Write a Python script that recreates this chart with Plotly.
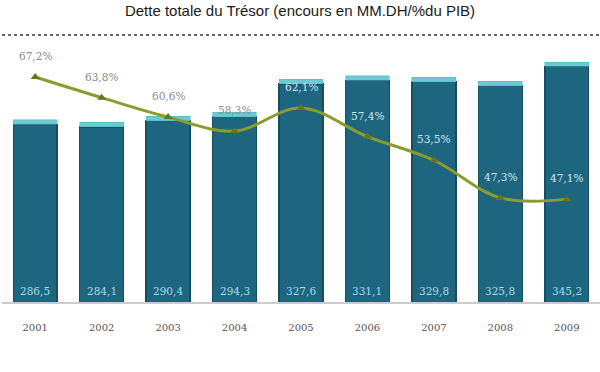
import plotly.graph_objects as go

years = ["2001", "2002", "2003", "2004", "2005", "2006", "2007", "2008", "2009"]
encours = [286.5, 284.1, 290.4, 294.3, 327.6, 331.1, 329.8, 325.8, 345.2]
encours_labels = ["286,5", "284,1", "290,4", "294,3", "327,6", "331,1", "329,8", "325,8", "345,2"]
pct_pib = [67.2, 63.8, 60.6, 58.3, 62.1, 57.4, 53.5, 47.3, 47.1]
pct_labels = ["67,2%", "63,8%", "60,6%", "58,3%", "62,1%", "57,4%", "53,5%", "47,3%", "47,1%"]
pct_inside = [False, False, False, False, True, True, True, True, True]

CAP = 4.5
Y_MIN, Y_MAX = 101, 357.4

fig = go.Figure()

fig.add_trace(go.Bar(
    x=years, y=[v - CAP for v in encours],
    marker=dict(color="#1e6580", line=dict(color="#174c61", width=1.5)),
    hoverinfo="skip", showlegend=False,
))
fig.add_trace(go.Bar(
    x=years, y=[CAP] * len(years), base=[v - CAP for v in encours],
    marker=dict(color="#6ccbd2", line=dict(color="#4fb3bd", width=0.5)),
    hoverinfo="skip", showlegend=False,
))

fig.add_trace(go.Scatter(
    x=years, y=pct_pib, yaxis="y2", mode="lines+markers",
    line=dict(color="#8c9c2c", width=3, shape="spline", smoothing=1.0),
    marker=dict(symbol="triangle-up", size=8, color="#66761c"),
    hoverinfo="skip", showlegend=False,
))

for i, (v, lab, ins) in enumerate(zip(pct_pib, pct_labels, pct_inside)):
    fig.add_annotation(
        x=i, y=v, xref="x", yref="y2", text=lab, showarrow=False, yshift=21,
        font=dict(size=10.5, family="DejaVu Serif",
                  color="#cfe8f0" if ins else "#8a8a8a"),
    )

for i, lab in enumerate(encours_labels):
    fig.add_annotation(
        x=i, y=Y_MIN, xref="x", yref="y", text=lab, showarrow=False,
        yanchor="bottom", yshift=4,
        font=dict(size=10.5, family="DejaVu Serif", color="#a9dbe6"),
    )

fig.add_shape(type="line", xref="paper", yref="paper", x0=0, x1=1, y0=0, y1=0,
              line=dict(color="#cccccc", width=2))
fig.add_shape(type="line", xref="paper", yref="paper", x0=-0.01, x1=1.0,
              y0=1.0 + 15 / 253, y1=1.0 + 15 / 253,
              line=dict(color="#333333", width=1.5, dash="dot"))

fig.update_layout(
    width=600, height=372,
    margin=dict(l=2, r=0, t=50, b=69),
    paper_bgcolor="white", plot_bgcolor="white",
    barmode="stack", bargap=0.34,
    title=dict(text="Dette totale du Trésor (encours en MM.DH/%du PIB)",
               x=0.5, xanchor="center", y=0.985, yanchor="top",
               font=dict(family="Liberation Sans", size=15, color="#1a1a1a")),
    xaxis=dict(type="category", range=[-0.5, 8.5], showgrid=False, showline=False,
               zeroline=False, ticks="",
               tickfont=dict(family="DejaVu Serif", size=10, color="#555555"),
               ticklabelstandoff=17),
    yaxis=dict(range=[Y_MIN, Y_MAX], visible=False, showgrid=False),
    yaxis2=dict(range=[30.0, 71.65], overlaying="y", visible=False, showgrid=False),
)

fig.write_html("out.html", config={"displayModeBar": False},
               post_script="document.body.style.margin='0';")
